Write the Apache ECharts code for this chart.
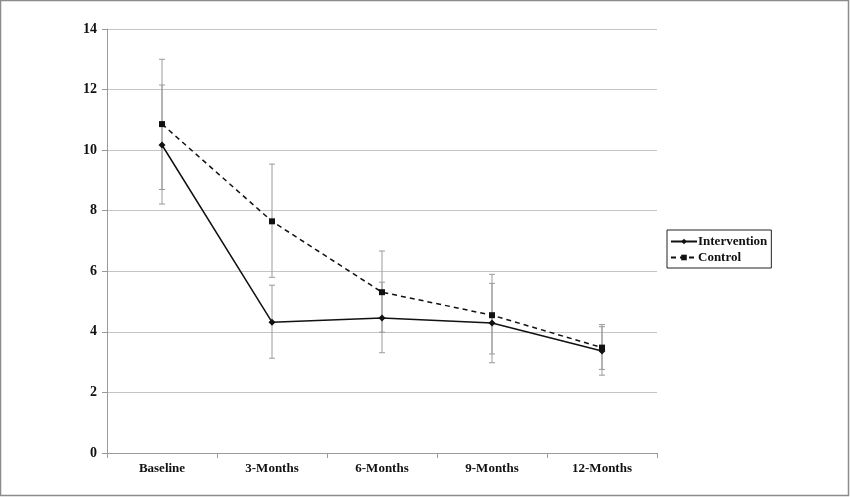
<!DOCTYPE html>
<html>
<head>
<meta charset="utf-8">
<script src="https://cdn.jsdelivr.net/npm/echarts@6/dist/echarts.min.js"></script>
<style>
  html, body { margin: 0; padding: 0; background: #fff; }
  #chart { width: 850px; height: 497px; }
</style>
</head>
<body>
<div id="chart"></div>
<script>
// ---- data ----
var categories = ['Baseline', '3-Months', '6-Months', '9-Months', '12-Months'];
var yTicks = [0, 2, 4, 6, 8, 10, 12, 14];

var intervention = [10.17, 4.32, 4.46, 4.29, 3.37];
var interventionLow = [8.7, 3.13, 3.31, 2.98, 2.57];
var interventionHigh = [12.15, 5.54, 5.64, 5.6, 4.17];

var control = [10.86, 7.65, 5.31, 4.55, 3.48];
var controlLow = [8.22, 5.8, 3.99, 3.27, 2.76];
var controlHigh = [13.0, 9.54, 6.67, 5.9, 4.24];

var FONT = '"Liberation Serif", "Times New Roman", serif';

/** build [index, low, high] rows for the error bar series */
function errRows(low, high) {
  var rows = [];
  for (var i = 0; i < low.length; i++) rows.push([i, low[i], high[i]]);
  return rows;
}

/** vertical whisker with small caps */
function renderErr(params, api) {
  var lo = api.coord([api.value(0), api.value(1)]);
  var hi = api.coord([api.value(0), api.value(2)]);
  var cap = 3;
  var style = { stroke: '#9a9a9a', lineWidth: 1 };
  return {
    type: 'group',
    children: [
      { type: 'line', shape: { x1: lo[0], y1: lo[1], x2: hi[0], y2: hi[1] }, style: style },
      { type: 'line', shape: { x1: lo[0] - cap, y1: lo[1], x2: lo[0] + cap, y2: lo[1] }, style: style },
      { type: 'line', shape: { x1: hi[0] - cap, y1: hi[1], x2: hi[0] + cap, y2: hi[1] }, style: style }
    ]
  };
}

var chart = echarts.init(document.getElementById('chart'));

chart.setOption({
  animation: false,
  backgroundColor: '#fff',
  graphic: [{
    type: 'rect',
    shape: { x: 0.5, y: 0.5, width: 848, height: 495 },
    style: { fill: 'none', stroke: '#8c8c8c', lineWidth: 1.5 },
    silent: true
  }],
  grid: { left: 107, right: 193, top: 29, bottom: 44 },
  legend: {
    orient: 'vertical',
    left: 667,
    top: 230,
    itemGap: 3,
    itemWidth: 26,
    itemHeight: 7,
    padding: [5, 4, 4, 3],
    borderColor: '#222',
    borderWidth: 1,
    textStyle: { fontFamily: FONT, fontWeight: 'bold', fontSize: 13, color: '#111', padding: [0, 0, 0, -4] },
    data: ['Intervention', 'Control']
  },
  xAxis: {
    type: 'category',
    data: categories,
    boundaryGap: true,
    axisLine: { lineStyle: { color: '#9a9a9a', width: 1 } },
    axisTick: { show: true, length: 5, lineStyle: { color: '#9a9a9a' } },
    axisLabel: { fontFamily: FONT, fontWeight: 'bold', fontSize: 13, color: '#111', margin: 9 },
    splitLine: { show: false }
  },
  yAxis: {
    type: 'value',
    min: yTicks[0],
    max: yTicks[yTicks.length - 1],
    interval: 2,
    axisLine: { show: true, lineStyle: { color: '#9a9a9a', width: 1 } },
    axisTick: { show: true, length: 5, lineStyle: { color: '#9a9a9a' } },
    axisLabel: { fontFamily: FONT, fontWeight: 'bold', fontSize: 14, color: '#111', margin: 10 },
    splitLine: { lineStyle: { color: '#c4c4c4', width: 1 } }
  },
  series: [
    {
      name: 'Intervention err',
      type: 'custom',
      renderItem: renderErr,
      data: errRows(interventionLow, interventionHigh),
      z: 1,
      silent: true
    },
    {
      name: 'Control err',
      type: 'custom',
      renderItem: renderErr,
      data: errRows(controlLow, controlHigh),
      z: 1,
      silent: true
    },
    {
      name: 'Intervention',
      type: 'line',
      data: intervention,
      symbol: 'diamond',
      symbolSize: 7,
      lineStyle: { color: '#111', width: 1.5, type: 'solid' },
      itemStyle: { color: '#111' },
      z: 3
    },
    {
      name: 'Control',
      type: 'line',
      data: control,
      symbol: 'rect',
      symbolSize: 6,
      lineStyle: { color: '#111', width: 1.5, type: [5, 4] },
      itemStyle: { color: '#111' },
      z: 3
    }
  ]
});
</script>
</body>
</html>
